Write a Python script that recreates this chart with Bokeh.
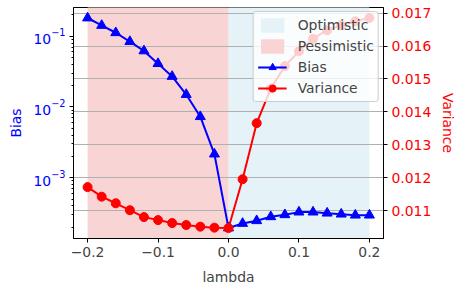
import math
from bokeh.plotting import figure
from bokeh.models import (Range1d, LinearAxis, LinearScale, FixedTicker, LogTicker, Grid,
                          CustomJSTickFormatter, Legend, LegendItem)
from bokeh.embed import file_html
from bokeh.resources import INLINE

# ---- data ----
lam = [-0.2, -0.18, -0.16, -0.14, -0.12, -0.1, -0.08, -0.06, -0.04, -0.02, 0.0,
       0.02, 0.04, 0.06, 0.08, 0.1, 0.12, 0.14, 0.16, 0.18, 0.2]
bias = [0.181, 0.142, 0.112, 0.084, 0.062, 0.041, 0.027, 0.015, 0.0073, 0.00216, 0.000195,
        0.000226, 0.000247, 0.000281, 0.000300, 0.000327, 0.000327, 0.000316, 0.000306,
        0.000296, 0.000296]
variance = [0.01172, 0.01143, 0.01123, 0.01102, 0.01081, 0.01072, 0.01063, 0.01057, 0.01052,
            0.01049, 0.01048, 0.01196, 0.01366, 0.01471, 0.01539, 0.01584, 0.01622, 0.01648,
            0.01663, 0.01675, 0.01685]
region_names = ["Optimistic", "Pessimistic"]
region_left = [0.0, -0.2]
region_right = [0.2, 0.0]
region_colors = ["#e5f2f7", "#f9d4d4"]
x_ticks = [-0.2, -0.1, 0.0, 0.1, 0.2]
var_ticks = [0.011, 0.012, 0.013, 0.014, 0.015, 0.016, 0.017]

FONT = "DejaVu Sans"
FS = "13.9px"

# matplotlib-like 5% margins
xmin, xmax = min(lam), max(lam)
xm = (xmax - xmin) * 0.05
lbmin, lbmax = math.log10(min(bias)), math.log10(max(bias))
lm = (lbmax - lbmin) * 0.05
vmin, vmax = min(variance), max(variance)
vm = (vmax - vmin) * 0.05

p = figure(frame_width=310, frame_height=231, output_backend="svg", toolbar_location=None,
           y_axis_type="log",
           x_range=Range1d(xmin - xm, xmax + xm),
           y_range=Range1d(10 ** (lbmin - lm), 10 ** (lbmax + lm)),
           min_border_left=73, min_border_right=62, min_border_top=7, min_border_bottom=40)
p.extra_y_ranges = {"var": Range1d(vmin - vm, vmax + vm)}
p.extra_y_scales = {"var": LinearScale()}
p.xgrid.visible = False
p.ygrid.visible = False
p.outline_line_color = "black"
p.outline_line_alpha = 1
p.outline_line_width = 1
p.background_fill_color = "white"
p.border_fill_color = "white"

left_axis = p.left[0]

# shaded regions (full height via variance range)
vr = p.extra_y_ranges["var"]
region_renderers = []
for name, l, r, c in zip(region_names, region_left, region_right, region_colors):
    rr = p.quad(left=[l], right=[r], bottom=[vr.start - 1], top=[vr.end + 1],
                y_range_name="var", fill_color=c, fill_alpha=1.0, line_color=None,
                level="underlay")
    region_renderers.append(rr)

# right axis
raxis = LinearAxis(y_range_name="var", axis_label="Variance")
raxis.ticker = FixedTicker(ticks=var_ticks)
raxis.formatter = CustomJSTickFormatter(code="return tick.toFixed(3);")
p.add_layout(raxis, "right")

# series
bl = p.line(lam, bias, line_color="blue", line_width=2)
bs = p.scatter(lam, bias, marker="triangle", size=10, fill_color="blue", line_color="blue")

grid = Grid(dimension=1, ticker=raxis.ticker, y_range_name="var",
            grid_line_color="#b0b0b0", grid_line_width=1, level="underlay")
p.add_layout(grid, "center")

vl = p.line(lam, variance, line_color="red", line_width=2, y_range_name="var")
vs = p.scatter(lam, variance, marker="circle", size=9, fill_color="red", line_color="red",
               y_range_name="var")

# axes styling
p.xaxis.ticker = FixedTicker(ticks=x_ticks)
p.xaxis.formatter = CustomJSTickFormatter(code="return tick.toFixed(1).replace('-', '\u2212');")
p.xaxis.axis_label = "lambda"
left_axis.axis_label = "Bias"
left_axis.ticker = LogTicker(num_minor_ticks=10)

for ax in p.axis:
    ax.axis_line_color = "black"
    ax.major_tick_line_color = "black"
    ax.minor_tick_line_color = "black"
    ax.major_tick_out = 4
    ax.major_tick_in = 0
    ax.minor_tick_out = 2
    ax.minor_tick_in = 0
    ax.major_label_text_font = FONT
    ax.major_label_text_font_size = FS
    ax.axis_label_text_font = FONT
    ax.axis_label_text_font_size = FS
    ax.axis_label_text_font_style = "normal"
    ax.major_label_standoff = 4
    ax.axis_label_standoff = 6

p.xaxis.axis_label_standoff = 9
p.xaxis.minor_tick_line_color = None
raxis.minor_tick_line_color = None
left_axis.major_label_text_color = "blue"
left_axis.axis_label_text_color = "blue"
raxis.major_label_text_color = "red"
raxis.axis_label_text_color = "red"

legend = Legend(items=[
    LegendItem(label=region_names[0], renderers=[region_renderers[0]]),
    LegendItem(label=region_names[1], renderers=[region_renderers[1]]),
    LegendItem(label="Bias", renderers=[bl, bs]),
    LegendItem(label="Variance", renderers=[vl, vs]),
], location="top_right")
legend.margin = 4
legend.padding = 4
legend.spacing = 3
legend.glyph_width = 29
legend.glyph_height = 18
legend.label_height = 18
legend.label_standoff = 11
legend.label_text_font = FONT
legend.label_text_font_size = FS
legend.border_line_color = "#cccccc"
legend.border_line_alpha = 1
legend.background_fill_alpha = 0.8
legend.border_radius = 3
p.add_layout(legend, "center")

open("out.html", "w").write(file_html(p, INLINE))
